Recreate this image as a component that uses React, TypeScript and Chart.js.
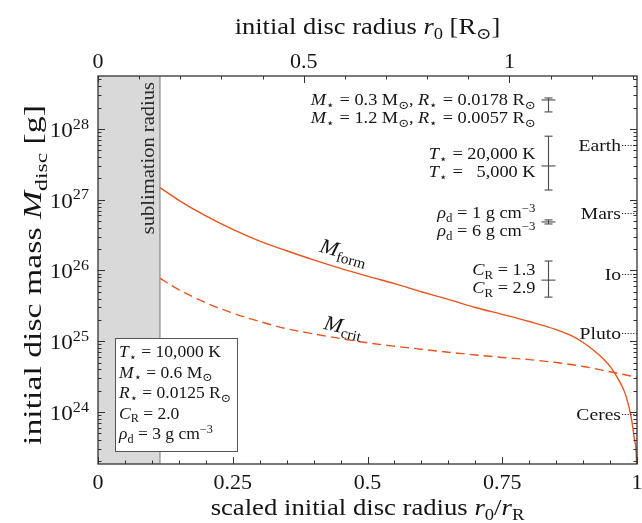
import React, { useEffect, useRef } from 'react';
import { Chart, registerables } from 'chart.js';
Chart.register(...registerables);

// ---------------- data ----------------
const formX = [0.115, 0.15, 0.2, 0.25, 0.3, 0.35, 0.4, 0.45, 0.5, 0.55, 0.6, 0.65, 0.7, 0.75, 0.8, 0.85, 0.88, 0.9, 0.92, 0.94, 0.95, 0.96, 0.97, 0.98, 0.99, 0.995, 0.999, 1.0];
const formM = [1.48e27, 9.8e26, 5.9e26, 3.8e26, 2.6e26, 1.9e26, 1.41e26, 1.07e26, 8.3e25, 6.5e25, 5.0e25, 3.9e25, 3.0e25, 2.4e25, 1.9e25, 1.46e25, 1.18e25, 9.6e24, 7.4e24, 5.4e24, 4.4e24, 3.4e24, 2.5e24, 1.65e24, 7.8e23, 4.2e23, 2.2e23, 1.0e23];
const critX = [0.115, 0.14, 0.2, 0.25, 0.3, 0.35, 0.4, 0.45, 0.5, 0.55, 0.6, 0.65, 0.7, 0.75, 0.8, 0.85, 0.9, 0.95, 1.0];
const critM = [7.8e25, 5.9e25, 3.5e25, 2.5e25, 1.9e25, 1.5e25, 1.27e25, 1.09e25, 9.5e24, 8.5e24, 7.7e24, 7.0e24, 6.4e24, 5.9e24, 5.5e24, 5.0e24, 4.4e24, 3.7e24, 3.1e24];

const sublimationX = 0.115;
const xMin = 0, xMax = 1;
const topMax = 1.31; // r_R in solar radii
const yMin = 1.84e23, yMax = 5.6e28;

const xTickValues = [0, 0.25, 0.5, 0.75, 1];
const xTickLabels = ['0', '0.25', '0.5', '0.75', '1'];
const topTickValues = [0, 0.5, 1];
const topTickLabels = ['0', '0.5', '1'];
const yTickExponents = [24, 25, 26, 27, 28];

const planetNames = ['Earth', 'Mars', 'Io', 'Pluto', 'Ceres'];
const planetMasses = [5.97e27, 6.42e26, 8.93e25, 1.30e25, 9.39e23];

const barX = 0.835;
const barHigh = [2.74e28, 7.9e27, 5.18e26, 1.36e26];
const barMid = [2.57e28, 3.0e27, 4.85e26, 7.3e25];
const barLow = [1.74e28, 1.37e27, 4.54e26, 4.2e25];

type Seg = { t: string; i?: boolean; b?: 'sub' | 'sup' };

const barLabelsA: Seg[][] = [
  [{ t: 'M', i: true }, { t: '⋆', b: 'sub' }, { t: ' = 0.3 M' }, { t: '⊙', b: 'sub' }, { t: ', ' }, { t: 'R', i: true }, { t: '⋆', b: 'sub' }, { t: ' = 0.0178 R' }, { t: '⊙', b: 'sub' }],
  [{ t: 'T', i: true }, { t: '⋆', b: 'sub' }, { t: ' = 20,000 K' }],
  [{ t: 'ρ', i: true }, { t: 'd', b: 'sub' }, { t: ' = 1 g cm' }, { t: '−3', b: 'sup' }],
  [{ t: 'C', i: true }, { t: 'R', b: 'sub' }, { t: ' = 1.3' }],
];
const barLabelsB: Seg[][] = [
  [{ t: 'M', i: true }, { t: '⋆', b: 'sub' }, { t: ' = 1.2 M' }, { t: '⊙', b: 'sub' }, { t: ', ' }, { t: 'R', i: true }, { t: '⋆', b: 'sub' }, { t: ' = 0.0057 R' }, { t: '⊙', b: 'sub' }],
  [{ t: 'T', i: true }, { t: '⋆', b: 'sub' }, { t: ' = \u20075,000 K' }],
  [{ t: 'ρ', i: true }, { t: 'd', b: 'sub' }, { t: ' = 6 g cm' }, { t: '−3', b: 'sup' }],
  [{ t: 'C', i: true }, { t: 'R', b: 'sub' }, { t: ' = 2.9' }],
];

const boxLines: Seg[][] = [
  [{ t: 'T', i: true }, { t: '⋆', b: 'sub' }, { t: ' = 10,000 K' }],
  [{ t: 'M', i: true }, { t: '⋆', b: 'sub' }, { t: ' = 0.6 M' }, { t: '⊙', b: 'sub' }],
  [{ t: 'R', i: true }, { t: '⋆', b: 'sub' }, { t: ' = 0.0125 R' }, { t: '⊙', b: 'sub' }],
  [{ t: 'C', i: true }, { t: 'R', b: 'sub' }, { t: ' = 2.0' }],
  [{ t: 'ρ', i: true }, { t: 'd', b: 'sub' }, { t: ' = 3 g cm' }, { t: '−3', b: 'sup' }],
];

const yTitle: Seg[] = [{ t: 'initial disc mass ' }, { t: 'M', i: true }, { t: 'disc', b: 'sub' }, { t: ' [g]' }];
const xTitle: Seg[] = [{ t: 'scaled initial disc radius ' }, { t: 'r', i: true }, { t: '0', b: 'sub' }, { t: '/' }, { t: 'r', i: true }, { t: 'R', b: 'sub' }];
const topTitle: Seg[] = [{ t: 'initial disc radius ' }, { t: 'r', i: true }, { t: '0', b: 'sub' }, { t: ' [R' }, { t: '⊙', b: 'sub' }, { t: ']' }];
const formLabel: Seg[] = [{ t: 'M', i: true }, { t: 'form', b: 'sub' }];
const critLabel: Seg[] = [{ t: 'M', i: true }, { t: 'crit', b: 'sub' }];

// ---------------- text helpers ----------------
const FAM = '"Liberation Serif", "DejaVu Serif", serif';
const INK = '#151515';
const CURVE = '#e8541e';

function segFont(s: Seg, size: number) {
  const sz = s.b ? size * 0.7 : size;
  return `${s.i ? 'italic ' : ''}${sz}px ${FAM}`;
}
function richWidth(ctx: CanvasRenderingContext2D, segs: Seg[], size: number) {
  let w = 0;
  for (const s of segs) {
    ctx.font = segFont(s, size);
    w += ctx.measureText(s.t).width;
  }
  return w;
}
function drawRich(ctx: CanvasRenderingContext2D, segs: Seg[], x: number, y: number, size: number, align: 'left' | 'right' | 'center', sx = 1) {
  const w = richWidth(ctx, segs, size) * sx;
  const start = align === 'left' ? x : align === 'right' ? x - w : x - w / 2;
  ctx.save();
  ctx.translate(start, y);
  ctx.scale(sx, 1);
  ctx.textAlign = 'left';
  ctx.textBaseline = 'alphabetic';
  let cx = 0;
  for (const s of segs) {
    ctx.font = segFont(s, size);
    const dy = s.b === 'sub' ? size * 0.22 : s.b === 'sup' ? -size * 0.38 : 0;
    ctx.fillText(s.t, cx, dy);
    cx += ctx.measureText(s.t).width;
  }
  ctx.restore();
}
function line(ctx: CanvasRenderingContext2D, x1: number, y1: number, x2: number, y2: number) {
  ctx.beginPath();
  ctx.moveTo(x1, y1);
  ctx.lineTo(x2, y2);
  ctx.stroke();
}

// ---------------- plugin ----------------
const decorPlugin = {
  id: 'decor',
  beforeDatasetsDraw(chart: any) {
    const ctx: CanvasRenderingContext2D = chart.ctx;
    const { top, bottom, left } = chart.chartArea;
    const xs = chart.scales.x;
    const px = xs.getPixelForValue(sublimationX);
    ctx.save();
    ctx.fillStyle = '#d9d9d9';
    ctx.fillRect(left, top, px - left, bottom - top);
    ctx.strokeStyle = '#7a7a7a';
    ctx.lineWidth = 1;
    line(ctx, px, top, px, bottom);
    ctx.fillStyle = '#2a2a2a';
    ctx.translate(px - 6, top + 6);
    ctx.rotate(-Math.PI / 2);
    drawRich(ctx, [{ t: 'sublimation radius' }], 0, 0, 19, 'right', 1.08);
    ctx.restore();
  },
  afterDatasetsDraw(chart: any) {
    const ctx: CanvasRenderingContext2D = chart.ctx;
    const { top, bottom, left, right } = chart.chartArea;
    const xs = chart.scales.x;
    const x2 = chart.scales.x2;
    const ys = chart.scales.y;
    ctx.save();

    // frame
    ctx.strokeStyle = '#333';
    ctx.lineWidth = 1.3;
    ctx.strokeRect(left, top, right - left, bottom - top);

    // ticks
    ctx.lineWidth = 1;
    ctx.strokeStyle = '#333';
    for (let e = 23; e <= 28; e++) {
      for (let m = 1; m <= 9; m++) {
        const v = m * Math.pow(10, e);
        if (v < yMin || v > yMax) continue;
        const py = Math.round(ys.getPixelForValue(v)) + 0.5;
        const len = m === 1 ? 7 : 3.5;
        line(ctx, left, py, left + len, py);
        line(ctx, right, py, right - len, py);
      }
    }
    for (let k = 0; k <= 20; k++) {
      const v = k * 0.05;
      const px = Math.round(xs.getPixelForValue(v)) + 0.5;
      const len = k % 5 === 0 ? 7 : 3.5;
      line(ctx, px, bottom, px, bottom - len);
    }
    for (let k = 0; k <= 13; k++) {
      const v = k * 0.1;
      if (v > topMax) continue;
      const px = Math.round(x2.getPixelForValue(v)) + 0.5;
      const len = k % 5 === 0 ? 7 : 3.5;
      line(ctx, px, top, px, top + len);
    }

    ctx.fillStyle = INK;
    // tick labels
    yTickExponents.forEach((e) => {
      const py = ys.getPixelForValue(Math.pow(10, e));
      drawRich(ctx, [{ t: '10' }, { t: String(e), b: 'sup' }], left - 9, py + 8, 22, 'right', 1.05);
    });
    xTickValues.forEach((v, i) => {
      drawRich(ctx, [{ t: xTickLabels[i] }], xs.getPixelForValue(v), bottom + 25, 22, 'center');
    });
    topTickValues.forEach((v, i) => {
      drawRich(ctx, [{ t: topTickLabels[i] }], x2.getPixelForValue(v), top - 8, 22, 'center');
    });

    // titles
    const cxp = (left + right) / 2;
    drawRich(ctx, xTitle, cxp, bottom + 51, 23, 'center', 1.16);
    drawRich(ctx, topTitle, cxp, top - 42, 23, 'center', 1.15);
    ctx.save();
    ctx.translate(41, (top + bottom) / 2 + 5);
    ctx.rotate(-Math.PI / 2);
    drawRich(ctx, yTitle, 0, 0, 25, 'center', 1.35);
    ctx.restore();

    // curve labels
    ctx.save();
    ctx.translate(342, 258);
    ctx.rotate(0.27);
    drawRich(ctx, formLabel, 0, 0, 21, 'center', 1.05);
    ctx.restore();
    ctx.save();
    ctx.translate(342, 333);
    ctx.rotate(0.22);
    drawRich(ctx, critLabel, 0, 0, 21, 'center', 1.05);
    ctx.restore();

    // planets
    planetNames.forEach((n, i) => {
      const py = ys.getPixelForValue(planetMasses[i]);
      ctx.fillStyle = INK;
      drawRich(ctx, [{ t: n }], right - 16, py + 6, 17.5, 'right', 1.12);
      ctx.save();
      ctx.setLineDash([1.2, 1.6]);
      ctx.strokeStyle = '#222';
      ctx.lineWidth = 1;
      line(ctx, right - 15, Math.round(py) + 0.5, right, Math.round(py) + 0.5);
      ctx.restore();
    });

    // error bars + labels
    const bx = Math.round(xs.getPixelForValue(barX)) + 0.5;
    ctx.strokeStyle = '#4a4a4a';
    ctx.lineWidth = 1.1;
    barHigh.forEach((h, i) => {
      const yh = ys.getPixelForValue(h);
      const yl = ys.getPixelForValue(barLow[i]);
      const ym = ys.getPixelForValue(barMid[i]);
      line(ctx, bx, yh, bx, yl);
      line(ctx, bx - 4, yh, bx + 4, yh);
      line(ctx, bx - 4, yl, bx + 4, yl);
      line(ctx, bx - 7, ym, bx + 7, ym);
      const cy = (yh + yl) / 2 + (i === 0 ? 4 : 0);
      ctx.fillStyle = INK;
      drawRich(ctx, barLabelsA[i], bx - 13, cy - 9 + 5, 16.5, 'right', 1.11);
      drawRich(ctx, barLabelsB[i], bx - 13, cy + 9 + 5, 16.5, 'right', 1.11);
    });

    // parameter box
    const bxl = 115, bxt = 338, bw = 122, bh = 113;
    ctx.fillStyle = '#fff';
    ctx.fillRect(bxl, bxt, bw, bh);
    ctx.strokeStyle = '#555';
    ctx.lineWidth = 1;
    ctx.strokeRect(bxl + 0.5, bxt + 0.5, bw, bh);
    ctx.fillStyle = INK;
    boxLines.forEach((ln, i) => {
      drawRich(ctx, ln, bxl + 4, bxt + 19 + i * 20.5, 17, 'left', 1.03);
    });

    ctx.restore();
  },
};

export default function App() {
  const ref = useRef<HTMLCanvasElement | null>(null);
  useEffect(() => {
    document.body.style.margin = '0';
    const canvas = ref.current;
    if (!canvas) return;
    const chart = new Chart(canvas, {
      type: 'line',
      data: {
        datasets: [
          {
            label: 'M_form',
            data: formX.map((x, i) => ({ x, y: formM[i] })),
            borderColor: CURVE,
            borderWidth: 1.4,
            pointRadius: 0,
            fill: false,
            cubicInterpolationMode: 'monotone',
          },
          {
            label: 'M_crit',
            data: critX.map((x, i) => ({ x, y: critM[i] })),
            borderColor: CURVE,
            borderWidth: 1.4,
            borderDash: [9, 5],
            pointRadius: 0,
            fill: false,
            cubicInterpolationMode: 'monotone',
          },
        ],
      },
      options: {
        responsive: false,
        animation: false,
        devicePixelRatio: 1,
        layout: { padding: { left: 0, right: 5, top: 0, bottom: 0 } },
        plugins: { legend: { display: false }, tooltip: { enabled: false } },
        scales: {
          x: {
            type: 'linear',
            position: 'bottom',
            min: xMin,
            max: xMax,
            ticks: { display: false },
            grid: { display: false, drawTicks: false },
            border: { display: false },
            afterFit: (s: any) => { s.height = 59; },
          },
          x2: {
            type: 'linear',
            position: 'top',
            min: 0,
            max: topMax,
            ticks: { display: false },
            grid: { display: false, drawTicks: false },
            border: { display: false },
            afterFit: (s: any) => { s.height = 76; },
          },
          y: {
            type: 'logarithmic',
            position: 'left',
            min: yMin,
            max: yMax,
            ticks: { display: false },
            grid: { display: false, drawTicks: false },
            border: { display: false },
            afterFit: (s: any) => { s.width = 98; },
          },
        },
      } as any,
      plugins: [decorPlugin],
    });
    return () => chart.destroy();
  }, []);
  return (
    <div style={{ position: 'absolute', left: 0, top: 0, width: 642, height: 523, background: '#fff' }}>
      <canvas ref={ref} width={642} height={523} style={{ width: 642, height: 523, display: 'block' }} />
    </div>
  );
}
